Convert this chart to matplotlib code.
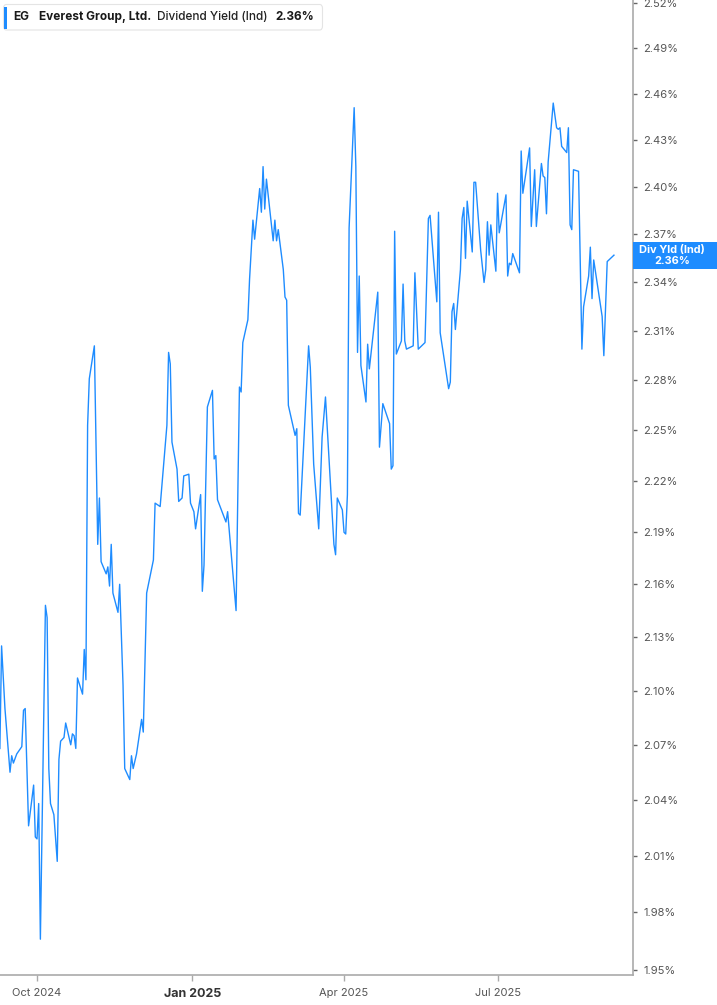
import matplotlib
matplotlib.use("Agg")
import matplotlib.pyplot as plt
import matplotlib.dates as mdates
from matplotlib.ticker import FixedLocator, FuncFormatter, NullLocator
from matplotlib.patches import FancyBboxPatch, Rectangle
import pandas as pd

# ---------------- data ----------------
dates = [
    "2024-09-09", "2024-09-10", "2024-09-12", "2024-09-15", "2024-09-16", "2024-09-17",
    "2024-09-19", "2024-09-22", "2024-09-23", "2024-09-24", "2024-09-26", "2024-09-29",
    "2024-09-30", "2024-10-01", "2024-10-02", "2024-10-03", "2024-10-06", "2024-10-07",
    "2024-10-08", "2024-10-09", "2024-10-11", "2024-10-13", "2024-10-14", "2024-10-15",
    "2024-10-17", "2024-10-18", "2024-10-21", "2024-10-22", "2024-10-23", "2024-10-24",
    "2024-10-25", "2024-10-28", "2024-10-29", "2024-10-30", "2024-10-31", "2024-11-01",
    "2024-11-04", "2024-11-06", "2024-11-07", "2024-11-08", "2024-11-11", "2024-11-12",
    "2024-11-13", "2024-11-14", "2024-11-15", "2024-11-18", "2024-11-19", "2024-11-21",
    "2024-11-22", "2024-11-25", "2024-11-26", "2024-11-27", "2024-11-29", "2024-12-02",
    "2024-12-03", "2024-12-04", "2024-12-05", "2024-12-09", "2024-12-10", "2024-12-13",
    "2024-12-17", "2024-12-18", "2024-12-19", "2024-12-20", "2024-12-23", "2024-12-24",
    "2024-12-26", "2024-12-27", "2024-12-30", "2024-12-31", "2025-01-02", "2025-01-03",
    "2025-01-06", "2025-01-07", "2025-01-08", "2025-01-10", "2025-01-13", "2025-01-14",
    "2025-01-15", "2025-01-16", "2025-01-21", "2025-01-22", "2025-01-27", "2025-01-29",
    "2025-01-30", "2025-01-31", "2025-02-03", "2025-02-04", "2025-02-06", "2025-02-07",
    "2025-02-10", "2025-02-11", "2025-02-12", "2025-02-13", "2025-02-14", "2025-02-18",
    "2025-02-19", "2025-02-20", "2025-02-21", "2025-02-24", "2025-02-25", "2025-02-26",
    "2025-02-27", "2025-03-03", "2025-03-04", "2025-03-05", "2025-03-06", "2025-03-11",
    "2025-03-12", "2025-03-14", "2025-03-17", "2025-03-19", "2025-03-21", "2025-03-26",
    "2025-03-27", "2025-03-28", "2025-03-31", "2025-04-01", "2025-04-02", "2025-04-03",
    "2025-04-04", "2025-04-07", "2025-04-08", "2025-04-09", "2025-04-10", "2025-04-11",
    "2025-04-14", "2025-04-15", "2025-04-16", "2025-04-21", "2025-04-22", "2025-04-24",
    "2025-04-28", "2025-04-29", "2025-04-30", "2025-05-01", "2025-05-02", "2025-05-05",
    "2025-05-06", "2025-05-07", "2025-05-08", "2025-05-12", "2025-05-13", "2025-05-15",
    "2025-05-19", "2025-05-21", "2025-05-22", "2025-05-26", "2025-05-27", "2025-05-28",
    "2025-06-02", "2025-06-03", "2025-06-04", "2025-06-05", "2025-06-06", "2025-06-09",
    "2025-06-10", "2025-06-11", "2025-06-12", "2025-06-13", "2025-06-16", "2025-06-17",
    "2025-06-18", "2025-06-21", "2025-06-23", "2025-06-24", "2025-06-25", "2025-06-26",
    "2025-06-27", "2025-06-30", "2025-07-01", "2025-07-02", "2025-07-06", "2025-07-07",
    "2025-07-08", "2025-07-09", "2025-07-10", "2025-07-14", "2025-07-15", "2025-07-16",
    "2025-07-20", "2025-07-21", "2025-07-23", "2025-07-24", "2025-07-27", "2025-07-28",
    "2025-07-29", "2025-07-30", "2025-07-31", "2025-08-03", "2025-08-05", "2025-08-06",
    "2025-08-07", "2025-08-08", "2025-08-11", "2025-08-12", "2025-08-13", "2025-08-14",
    "2025-08-15", "2025-08-18", "2025-08-20", "2025-08-21", "2025-08-24", "2025-08-25",
    "2025-08-26", "2025-08-27", "2025-09-01", "2025-09-02", "2025-09-04", "2025-09-08",
]

yields = [
    2.068, 2.125, 2.090, 2.055, 2.064, 2.060,
    2.065, 2.069, 2.089, 2.090, 2.026, 2.048,
    2.020, 2.019, 2.038, 1.966, 2.148, 2.141,
    2.057, 2.038, 2.032, 2.007, 2.062, 2.072,
    2.074, 2.082, 2.070, 2.076, 2.075, 2.068,
    2.107, 2.098, 2.123, 2.106, 2.253, 2.281,
    2.301, 2.183, 2.210, 2.173, 2.166, 2.170,
    2.159, 2.183, 2.155, 2.144, 2.160, 2.103,
    2.057, 2.051, 2.064, 2.057, 2.065, 2.084,
    2.077, 2.115, 2.155, 2.174, 2.207, 2.205,
    2.253, 2.297, 2.290, 2.243, 2.227, 2.208,
    2.210, 2.223, 2.224, 2.207, 2.202, 2.192,
    2.212, 2.156, 2.171, 2.264, 2.274, 2.233,
    2.235, 2.209, 2.196, 2.202, 2.145, 2.276,
    2.273, 2.303, 2.317, 2.342, 2.379, 2.367,
    2.399, 2.384, 2.413, 2.386, 2.405, 2.366,
    2.379, 2.366, 2.373, 2.348, 2.331, 2.329,
    2.265, 2.247, 2.251, 2.201, 2.200, 2.301,
    2.288, 2.230, 2.192, 2.246, 2.270, 2.183,
    2.177, 2.210, 2.203, 2.190, 2.189, 2.212,
    2.374, 2.451, 2.413, 2.297, 2.344, 2.289,
    2.267, 2.302, 2.287, 2.334, 2.240, 2.266,
    2.254, 2.227, 2.229, 2.372, 2.296, 2.304,
    2.339, 2.304, 2.299, 2.301, 2.346, 2.299,
    2.303, 2.380, 2.382, 2.328, 2.384, 2.309,
    2.275, 2.279, 2.322, 2.327, 2.311, 2.348,
    2.380, 2.387, 2.355, 2.391, 2.359, 2.403,
    2.403, 2.360, 2.340, 2.348, 2.378, 2.357,
    2.376, 2.347, 2.396, 2.371, 2.395, 2.344,
    2.352, 2.351, 2.358, 2.346, 2.423, 2.396,
    2.425, 2.375, 2.411, 2.375, 2.415, 2.407,
    2.406, 2.383, 2.416, 2.454, 2.438, 2.437,
    2.438, 2.426, 2.422, 2.438, 2.376, 2.373,
    2.411, 2.410, 2.299, 2.325, 2.344, 2.362,
    2.330, 2.354, 2.319, 2.295, 2.353, 2.357,
]

y_ticks = [1.95, 1.98, 2.01, 2.04, 2.07, 2.10, 2.13, 2.16, 2.19, 2.22,
           2.25, 2.28, 2.31, 2.34, 2.37, 2.40, 2.43, 2.46, 2.49, 2.52]
x_tick_dates = ["2024-10-01", "2025-01-01", "2025-04-01", "2025-07-01"]
x_tick_labels = ["Oct 2024", "Jan 2025", "Apr 2025", "Jul 2025"]
bold_tick = "Jan 2025"

symbol = "EG"
company = "Everest Group, Ltd."
metric = "Dividend Yield (Ind)"
box_label = "Div Yld (Ind)"

# ---------------- style ----------------
plt.rcParams['font.family'] = ['Inter', 'DejaVu Sans']
BLUE = "#1e8cff"
W, H = 717, 1005

def fx(px):
    return px / W

def fy(py):
    return 1 - py / H

fig = plt.figure(figsize=(W / 100, H / 100), dpi=100)
fig.patch.set_facecolor("white")
ax = fig.add_axes([0, fy(975), fx(632.5), 975 / H])

x = pd.to_datetime(dates)
ax.plot(x, yields, color=BLUE, lw=1.0, solid_joinstyle="round")

ax.set_yscale("log")
ax.set_ylim(1.94742, 2.52200)
oct1 = mdates.date2num(pd.Timestamp("2024-10-01"))
ax.set_xlim(oct1 - 37 / 1.687, oct1 + 595.5 / 1.687)

ax.yaxis.set_major_locator(FixedLocator(y_ticks))
ax.yaxis.set_minor_locator(NullLocator())
ax.yaxis.set_major_formatter(FuncFormatter(lambda v, p: f"{v:.2f}%"))
ax.yaxis.tick_right()
ax.tick_params(axis="y", which="major", direction="out", length=3, width=1,
               color="#666666", labelsize=8.0, labelcolor="#555555", pad=5)

ax.set_xticks(pd.to_datetime(x_tick_dates))
ax.set_xticklabels(x_tick_labels)
ax.xaxis.set_minor_locator(NullLocator())
ax.tick_params(axis="x", which="major", direction="out", length=4, width=1,
               color="#aaaaaa", labelsize=8.0, labelcolor="#555555", pad=5)
for lab in ax.get_xticklabels():
    if lab.get_text() == bold_tick:
        lab.set_fontweight("bold")
        lab.set_fontsize(9.0)
        lab.set_color("#333333")

for s in ["left", "top"]:
    ax.spines[s].set_visible(False)
for s in ["right", "bottom"]:
    ax.spines[s].set_color("#aaaaaa")
    ax.spines[s].set_linewidth(1.2)
ax.set_facecolor("white")

# ---------------- last value box on the right axis ----------------
fig.canvas.draw()
last_val = yields[-1]
_, py_disp = ax.transData.transform((mdates.date2num(x[-1]), last_val))
py_img = H - py_disp
box_top = py_img - 13.5
fig.patches.append(Rectangle((fx(633), fy(box_top + 27)), fx(W - 633) + 0.01, 27 / H,
                             transform=fig.transFigure, facecolor=BLUE,
                             edgecolor="none", zorder=5))
fig.text(fx(672), fy(box_top + 8.5), box_label, color="white", fontsize=7.9,
         fontweight="bold", ha="center", va="center", zorder=6)
fig.text(fx(672), fy(box_top + 19.5), f"{last_val:.2f}%", color="white", fontsize=7.9,
         fontweight="bold", ha="center", va="center", zorder=6)

# ---------------- legend / header box ----------------
fig.patches.append(FancyBboxPatch((fx(3.5), fy(30)), fx(319), 25.5 / H,
                                  boxstyle="round,pad=0,rounding_size=0.004",
                                  transform=fig.transFigure, facecolor="white",
                                  edgecolor="#e4e4e4", lw=0.8, zorder=5))
fig.patches.append(Rectangle((fx(3.5), fy(29)), fx(3.5), 22 / H,
                             transform=fig.transFigure, facecolor=BLUE,
                             edgecolor="none", zorder=6))
ty = fy(17)
fs = 8.5
fig.text(fx(13), ty, symbol, fontsize=fs, fontweight="bold", color="#1a1a1a",
         va="center", zorder=7)
fig.text(fx(39), ty, company, fontsize=fs, fontweight="bold", color="#1a1a1a",
         va="center", zorder=7)
fig.text(fx(157), ty, metric, fontsize=fs, fontweight="medium", color="#222222",
         va="center", zorder=7)
fig.text(fx(275), ty, f"{last_val:.2f}%", fontsize=fs, fontweight="bold",
         color="#1a1a1a", va="center", zorder=7)

fig.savefig("out.png", dpi=100, facecolor="white")
